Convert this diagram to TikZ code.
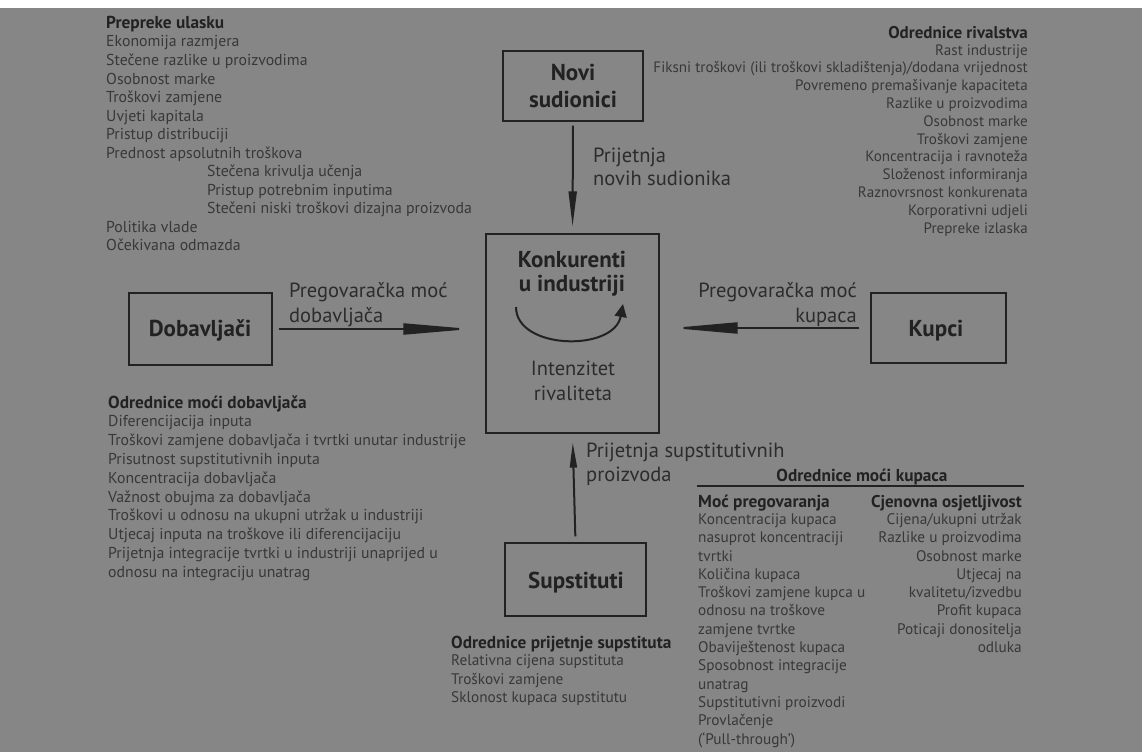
\documentclass[tikz,border=0pt]{standalone}
\usepackage{fontspec}
\setmainfont{PT Sans}
\usetikzlibrary{arrows.meta}
\definecolor{bg}{RGB}{134,134,134}
\definecolor{ink}{RGB}{34,34,34}
\definecolor{soft}{RGB}{56,56,56}
\definecolor{lbl}{RGB}{44,44,44}
\tikzset{
  item/.style={anchor=base west, inner sep=0pt, text=soft, font=\fontsize{15.8}{18}\selectfont},
  itemr/.style={item, anchor=base east, font=\fontsize{15.1}{18}\selectfont},
  itemk/.style={item, font=\fontsize{15.3}{18}\selectfont},
  itemkr/.style={itemk, anchor=base east},
  head/.style={item, text=ink, font=\fontsize{17.3}{20}\selectfont\bfseries},
  headr/.style={head, anchor=base east, font=\fontsize{17}{20}\selectfont\bfseries},
  lab/.style={anchor=base west, inner sep=0pt, text=lbl, font=\fontsize{20.5}{24}\selectfont},
  labr/.style={lab, anchor=base east},
  labc/.style={lab, anchor=base},
  boxlab/.style={anchor=base, inner sep=0pt, text=ink, font=\fontsize{23}{26}\selectfont\bfseries},
  box/.style={draw=ink, line width=1.2pt, inner sep=0pt},
  bigarrow/.style={draw=ink, line width=2pt},
}
\begin{document}
\begin{tikzpicture}[x=1pt,y=-1pt]
\fill[bg] (0,0) rectangle (1142,752);
\fill[white] (0,0) rectangle (1142,8);
\useasboundingbox (0,0) rectangle (1142,752);

% boxes
\node[box, minimum width=140pt, minimum height=70pt] (novi) at (573,86) {};
\node[box, minimum width=173pt, minimum height=199pt] (konk) at (572.5,333.5) {};
\node[box, minimum width=143pt, minimum height=72pt] (dob) at (200.5,329) {};
\node[box, minimum width=135pt, minimum height=70pt] (kup) at (938.5,328) {};
\node[box, minimum width=141pt, minimum height=73pt] (sup) at (575.5,579.5) {};

% box labels
\node[boxlab] (novit1) at (573,81) {Novi};
\node[boxlab] (novit2) at (573,107) {sudionici};
\node[boxlab] (konkt1) at (572,267) {Konkurenti};
\node[boxlab] (konkt2) at (572,291) {u industriji};
\node[boxlab] (dobt) at (200,336) {Dobavljači};
\node[boxlab] (kupt) at (936,336) {Kupci};
\node[boxlab] (supt) at (576,588) {Supstituti};

% arrows
\draw[bigarrow, -{Triangle[length=35pt,width=8pt]}, shorten <=4pt, shorten >=7pt] (novi.south) -- (konk.north);
\draw[bigarrow, -{Triangle[length=68pt,width=11pt]}, shorten <=6pt, shorten >=14pt] (dob.east) -- (dob.east -| konk.west);
\draw[bigarrow, -{Triangle[length=66pt,width=11pt]}, shorten <=11pt, shorten >=12pt] (kup.west) -- (kup.west -| konk.east);
\draw[bigarrow, -{Triangle[length=25pt,width=7pt]}, shorten <=6pt, shorten >=9pt] (sup.north) -- (konk.south);

% rivalry curve
\coordinate (cs) at (516,307);
\coordinate (ce) at (623,304);
\draw[ink, line width=2pt, -{Triangle[length=13pt,width=12pt]}] (cs) .. controls (516,350) and (614,352) .. (ce);

% arrow labels
\node[lab] (pn1) at (593,162) {Prijetnja};
\node[lab] (pn2) at (593,185) {novih sudionika};
\node[lab] (pd1) at (289,297) {Pregovaračka moć};
\node[lab] (pd2) at (289,322) {dobavljača};
\node[labr] (pk1) at (857,297) {Pregovaračka moć};
\node[labr] (pk2) at (857,322) {kupaca};
\node[labc] (ir1) at (573,375) {Intenzitet};
\node[labc] (ir2) at (573,400) {rivaliteta};
\node[lab] (ps1) at (586,457) {Prijetnja supstitutivnih};
\node[lab] (ps2) at (586,481) {proizvoda};

% top-left: barriers to entry
\node[head] (puh) at (106,29) {Prepreke ulasku};
\foreach \t [count=\i] in {Ekonomija razmjera, Stečene razlike u proizvodima, Osobnost marke, Troškovi zamjene, Uvjeti kapitala, Pristup distribuciji, Prednost apsolutnih troškova}
  \node[item] (pu\i) at (106,{23+18.5*\i+5.5}) {\t};
\foreach \t [count=\i from 8] in {Stečena krivulja učenja, Pristup potrebnim inputima, Stečeni niski troškovi dizajna proizvoda}
  \node[item] (pu\i) at (207,{23+18.5*\i+5.5}) {\t};
\foreach \t [count=\i from 11] in {Politika vlade, Očekivana odmazda}
  \node[item] (pu\i) at (106,{23+18.5*\i+5.5}) {\t};

% top-right: rivalry
\node[headr] (orh) at (1028,38) {Odrednice rivalstva};
\foreach \t [count=\i] in {Rast industrije, Fiksni troškovi (ili troškovi skladištenja)/dodana vrijednost, Povremeno premašivanje kapaciteta, Razlike u proizvodima, Osobnost marke, Troškovi zamjene, Koncentracija i ravnoteža, Složenost informiranja, Raznovrsnost konkurenata, Korporativni udjeli, Prepreke izlaska}
  \node[itemr] (or\i) at (1028,{32+17.8*\i+5.3}) {\t};

% bottom-left: supplier power
\node[head] (odh) at (108,408) {Odrednice moći dobavljača};
\foreach \t [count=\i] in {Diferencijacija inputa, Troškovi zamjene dobavljača i tvrtki unutar industrije, Prisutnost supstitutivnih inputa, Koncentracija dobavljača, Važnost obujma za dobavljača, Troškovi u odnosu na ukupni utržak u industriji, Utjecaj inputa na troškove ili diferencijaciju, Prijetnja integracije tvrtki u industriji unaprijed u, odnosu na integraciju unatrag}
  \node[item] (od\i) at (108,{402+18.9*\i+5.5}) {\t};

% bottom-middle: substitutes
\node[head] (osh) at (451,648) {Odrednice prijetnje supstituta};
\foreach \t [count=\i] in {Relativna cijena supstituta, Troškovi zamjene, Sklonost kupaca supstitutu}
  \node[itemk] (os\i) at (451,{642+18.3*\i+5.4}) {\t};

% bottom-right: buyer power
\node[head, anchor=base] (okh) at (862,481) {Odrednice moći kupaca};
\coordinate (rl) at (697,485.5);
\coordinate (rr) at (1024,485.5);
\draw[ink, line width=2pt] (rl) -- (rr);
\node[head] (mph) at (698,507) {Moć pregovaranja};
\foreach \t [count=\i from 0] in {Koncentracija kupaca, nasuprot koncentraciji, tvrtki, Količina kupaca, Troškovi zamjene kupca u, odnosu na troškove, zamjene tvrtke, Obaviještenost kupaca, Sposobnost integracije, unatrag, Supstitutivni proizvodi, Provlačenje, (‘Pull-through’)}
  \node[itemk] (mp\i) at (698,{519+18.3*\i+5.4}) {\t};
\node[headr] (coh) at (1022,507) {Cjenovna osjetljivost};
\foreach \t [count=\i from 0] in {Cijena/ukupni utržak, Razlike u proizvodima, Osobnost marke, Utjecaj na, kvalitetu/izvedbu, Profit kupaca, Poticaji donositelja, odluka}
  \node[itemkr] (co\i) at (1022,{519+18.3*\i+5.4}) {\t};
\end{tikzpicture}
\end{document}
